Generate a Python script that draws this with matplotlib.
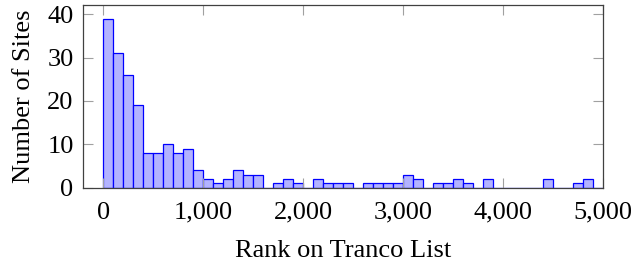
import numpy as np
import matplotlib
matplotlib.use('Agg')
import matplotlib.pyplot as plt
from matplotlib.ticker import FuncFormatter

# ── Data: histogram of site ranks (bin width 100) ───────────────────────────
BIN_WIDTH  = 100
bin_starts = np.arange(0, 5000, BIN_WIDTH)
counts = [39, 31, 26, 19, 8, 8, 10, 8, 9, 4,
          2, 1, 2, 4, 3, 3, 0, 1, 2, 1,
          0, 2, 1, 1, 1, 0, 1, 1, 1, 1,
          3, 2, 0, 1, 1, 2, 1, 0, 2, 0,
          0, 0, 0, 0, 2, 0, 0, 1, 2, 0]
x_ticks = [0, 1000, 2000, 3000, 4000, 5000]
y_ticks = [0, 10, 20, 30, 40]

plt.rcParams['font.family'] = ['Liberation Serif', 'DejaVu Serif']
plt.rcParams['font.size'] = 19

fig = plt.figure(figsize=(6.36, 2.64), dpi=100)
ax = fig.add_axes([0.131, 0.289, 0.8176, 0.693])

ax.bar(bin_starts, counts, width=BIN_WIDTH, align='edge',
       color='#b3b3ff', edgecolor='#0000ff', linewidth=0.9)

ax.set_xlim(-200, 5000)
ax.set_ylim(0, 42.2)
ax.set_xticks(x_ticks)
ax.set_yticks(y_ticks)
ax.xaxis.set_major_formatter(FuncFormatter(lambda v, _: f"{int(v):,}"))

ax.tick_params(direction='in', length=7, width=0.8, color='#a0a0a0',
               top=True, right=True, labelsize=19)
ax.tick_params(axis='x', pad=10)
ax.tick_params(axis='y', pad=7)
for sp in ax.spines.values():
    sp.set_color('#404040')
    sp.set_linewidth(0.9)

ax.set_xlabel("Rank on Tranco List", labelpad=12)
ax.set_ylabel("Number of Sites", labelpad=9)

fig.savefig("out.png", dpi=100)
